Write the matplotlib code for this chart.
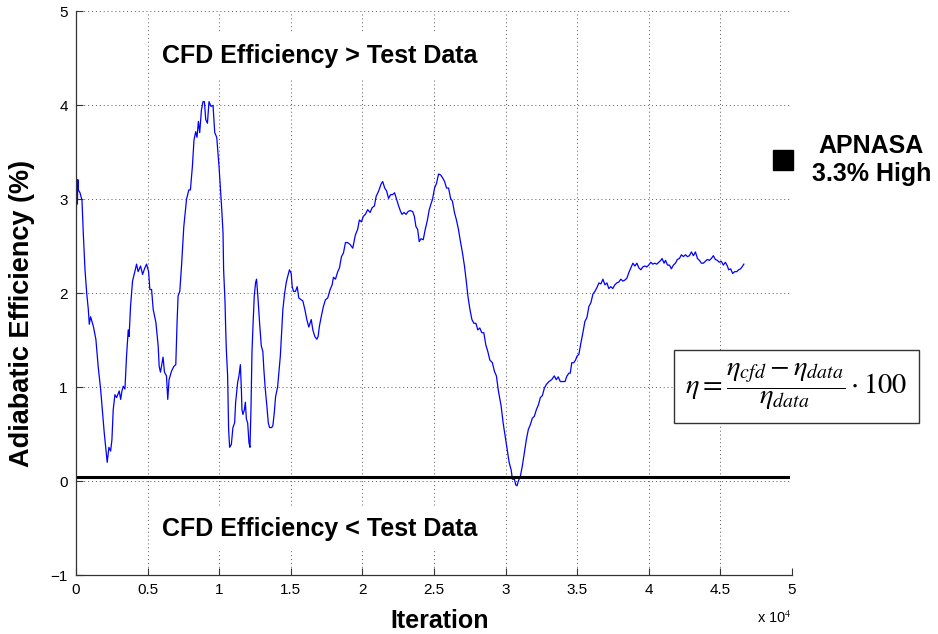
import matplotlib
matplotlib.use("Agg")
import matplotlib.pyplot as plt
from matplotlib.ticker import FuncFormatter, MultipleLocator

plt.rcParams['font.family'] = ['Liberation Sans', 'DejaVu Sans']
plt.rcParams['mathtext.fontset'] = 'stix'

# iteration number vs. adiabatic efficiency difference (%)
iterations = [
    0, 30, 60, 100, 130, 170, 280, 420, 510, 630, 750, 860, 930, 1020, 1210,
    1390, 1550, 1720, 1860, 1970, 2090, 2180, 2300, 2420, 2510, 2600, 2720,
    2840, 3020, 3120, 3210, 3300, 3420, 3530, 3650, 3710, 3810, 3950, 4110,
    4230, 4340, 4510, 4650, 4810, 4930, 5070, 5160, 5280, 5390, 5580, 5740,
    5810, 5900, 5990, 6080, 6180, 6320, 6410, 6500, 6670, 6830, 6970, 7060,
    7130, 7250, 7370, 7530, 7720, 7880, 7990, 8130, 8240, 8360, 8450, 8550,
    8640, 8760, 8870, 8970, 9060, 9180, 9290, 9430, 9570, 9690, 9830, 9990,
    10080, 10180, 10270, 10310, 10410, 10450, 10500, 10590, 10660, 10730,
    10850, 10960, 11080, 11150, 11290, 11380, 11480, 11550, 11590, 11660,
    11760, 11830, 11900, 11990, 12080, 12150, 12220, 12290, 12360, 12450,
    12540, 12610, 12700, 12820, 12940, 13050, 13120, 13220, 13330, 13430,
    13520, 13660, 13750, 13850, 13940, 14080, 14170, 14270, 14360, 14450,
    14570, 14680, 14770, 14910, 15030, 15100, 15190, 15330, 15450, 15560,
    15730, 15840, 15980, 16120, 16260, 16430, 16540, 16680, 16820, 16910,
    17000, 17140, 17280, 17420, 17580, 17750, 17890, 17980, 18120, 18280,
    18400, 18540, 18680, 18820, 18960, 19140, 19330, 19510, 19670, 19790,
    19930, 20070, 20210, 20370, 20540, 20680, 20840, 20960, 21140, 21300,
    21420, 21560, 21690, 21830, 21970, 22110, 22250, 22390, 22530, 22670,
    22770, 22910, 23050, 23190, 23330, 23510, 23630, 23740, 23860, 23970,
    24090, 24250, 24390, 24530, 24670, 24810, 24900, 25040, 25180, 25320,
    25460, 25600, 25740, 25880, 26020, 26160, 26290, 26430, 26570, 26710,
    26850, 26990, 27130, 27270, 27370, 27510, 27650, 27790, 27930, 28060,
    28200, 28340, 28480, 28620, 28760, 28900, 29080, 29220, 29360, 29500,
    29690, 29830, 29970, 30110, 30250, 30390, 30480, 30620, 30710, 30800,
    30890, 31030, 31170, 31310, 31450, 31590, 31730, 31870, 32010, 32150,
    32290, 32430, 32570, 32710, 32850, 33030, 33220, 33400, 33540, 33680,
    33820, 33960, 34150, 34290, 34430, 34520, 34620, 34760, 34890, 34990,
    35120, 35260, 35400, 35540, 35680, 35820, 35960, 36100, 36240, 36380,
    36520, 36660, 36800, 36940, 37080, 37210, 37350, 37490, 37630, 37770,
    37910, 38050, 38190, 38330, 38470, 38610, 38750, 38890, 39030, 39170,
    39310, 39450, 39580, 39720, 39860, 40000, 40140, 40280, 40420, 40560,
    40700, 40840, 40930, 41070, 41170, 41310, 41450, 41580, 41720, 41860,
    42000, 42140, 42280, 42420, 42560, 42700, 42840, 42980, 43120, 43260,
    43400, 43540, 43680, 43810, 43950, 44090, 44230, 44370, 44510, 44650,
    44790, 44930, 45070, 45210, 45350, 45490, 45580, 45720, 45860, 46000,
    46140, 46280, 46410, 46510, 46640,
]
efficiency = [
    2.45, 2.90, 3.15, 2.95, 3.21, 3.10, 3.07, 2.99, 2.64, 2.25, 2.00, 1.83,
    1.67, 1.75, 1.65, 1.51, 1.22, 0.98, 0.73, 0.52, 0.34, 0.20, 0.36, 0.32,
    0.44, 0.76, 0.92, 0.89, 0.96, 0.87, 0.96, 1.01, 0.98, 1.33, 1.61, 1.54,
    1.86, 2.13, 2.23, 2.31, 2.23, 2.29, 2.20, 2.27, 2.31, 2.23, 2.04, 2.04,
    1.83, 1.69, 1.44, 1.22, 1.16, 1.24, 1.32, 1.16, 1.12, 0.87, 1.08, 1.17,
    1.22, 1.24, 1.69, 1.97, 2.02, 2.29, 2.71, 3.00, 3.10, 3.10, 3.35, 3.63,
    3.72, 3.66, 3.83, 3.71, 3.95, 4.04, 4.04, 3.85, 3.81, 4.04, 3.99, 4.00,
    3.71, 3.66, 3.35, 3.14, 2.89, 2.64, 2.25, 1.90, 1.65, 1.40, 1.12, 0.55,
    0.36, 0.39, 0.57, 0.62, 0.84, 1.05, 1.12, 1.24, 0.98, 0.76, 0.71, 0.76,
    0.84, 0.66, 0.62, 0.41, 0.36, 0.76, 1.37, 1.65, 1.97, 2.11, 2.15, 1.97,
    1.69, 1.44, 1.38, 1.19, 0.98, 0.80, 0.62, 0.57, 0.57, 0.59, 0.73, 0.90,
    1.00, 1.16, 1.33, 1.58, 1.83, 2.00, 2.11, 2.17, 2.25, 2.21, 2.07, 2.02,
    2.02, 2.07, 1.95, 1.93, 1.92, 1.83, 1.72, 1.64, 1.72, 1.61, 1.54, 1.51,
    1.54, 1.65, 1.76, 1.86, 1.93, 1.95, 2.04, 2.09, 2.17, 2.15, 2.23, 2.27,
    2.39, 2.43, 2.54, 2.54, 2.52, 2.48, 2.62, 2.68, 2.78, 2.76, 2.82, 2.84,
    2.89, 2.86, 2.91, 2.93, 3.03, 3.09, 3.16, 3.19, 3.12, 3.09, 3.01, 3.05,
    3.05, 3.07, 3.00, 2.93, 2.87, 2.84, 2.86, 2.84, 2.87, 2.88, 2.87, 2.82,
    2.71, 2.68, 2.55, 2.58, 2.57, 2.68, 2.77, 2.89, 2.96, 3.00, 3.12, 3.17,
    3.27, 3.26, 3.23, 3.19, 3.12, 3.12, 3.01, 2.98, 2.86, 2.78, 2.68, 2.55,
    2.43, 2.29, 2.11, 1.97, 1.83, 1.72, 1.68, 1.68, 1.61, 1.63, 1.58, 1.58,
    1.45, 1.38, 1.29, 1.26, 1.17, 1.12, 0.96, 0.80, 0.62, 0.48, 0.34, 0.20,
    0.12, 0.02, 0.02, -0.04, -0.05, 0.00, 0.05, 0.16, 0.30, 0.44, 0.55, 0.60,
    0.67, 0.69, 0.76, 0.81, 0.89, 0.91, 0.99, 1.03, 1.06, 1.08, 1.12, 1.08,
    1.11, 1.06, 1.06, 1.06, 1.12, 1.15, 1.15, 1.26, 1.26, 1.29, 1.33, 1.35,
    1.47, 1.58, 1.70, 1.74, 1.86, 1.90, 1.99, 2.02, 2.06, 2.11, 2.10, 2.15,
    2.09, 2.11, 2.05, 2.07, 2.05, 2.09, 2.11, 2.12, 2.15, 2.13, 2.14, 2.16,
    2.22, 2.27, 2.32, 2.29, 2.32, 2.27, 2.25, 2.28, 2.29, 2.28, 2.30, 2.33,
    2.31, 2.32, 2.31, 2.33, 2.35, 2.37, 2.32, 2.35, 2.30, 2.30, 2.26, 2.30,
    2.32, 2.36, 2.37, 2.41, 2.39, 2.41, 2.39, 2.40, 2.44, 2.40, 2.44, 2.37,
    2.35, 2.32, 2.32, 2.34, 2.36, 2.35, 2.37, 2.40, 2.36, 2.35, 2.33, 2.34,
    2.30, 2.33, 2.29, 2.25, 2.26, 2.21, 2.23, 2.23, 2.25, 2.26, 2.28, 2.31,
]

zero_line = 0.04          # CFD = test data reference level
apnasa_iter = 49340       # APNASA result marker
apnasa_eff = 3.42

fig = plt.figure(figsize=(9.38, 6.34), dpi=100)
ax = fig.add_axes([0.081, 0.093, 0.7633, 0.8889])

ax.plot(iterations, efficiency, color='#0000ff', lw=0.9)
ax.axhline(zero_line, xmin=0, xmax=0.995, color='black', lw=2.2)
ax.plot([apnasa_iter], [apnasa_eff], 's', color='black', ms=14, clip_on=False)

ax.set_xlim(0, 50000)
ax.set_ylim(-1, 5)
ax.xaxis.set_major_locator(MultipleLocator(5000))
ax.yaxis.set_major_locator(MultipleLocator(1))
ax.xaxis.set_major_formatter(FuncFormatter(lambda v, p: f'{v/1e4:g}'))

ax.grid(True, color='0.35', linestyle=(0, (1, 3)), lw=0.7)
ax.spines['top'].set_visible(False)
ax.spines['right'].set_visible(False)
for s in ['left', 'bottom']:
    ax.spines[s].set_color('0.2')
    ax.spines[s].set_linewidth(0.9)
ax.tick_params(direction='in', length=5, width=0.8, labelsize=11, pad=6, colors='0.2', labelcolor='black')

ax.set_xlabel('Iteration', fontsize=18, fontweight='bold')
ax.set_ylabel('Adiabatic Efficiency (%)', fontsize=19.5, fontweight='bold')
ax.xaxis.set_label_coords(0.508, -0.060)
ax.yaxis.set_label_coords(-0.057, 0.465)

ax.text(1.0, -0.076, r'x 10$^{4}$', transform=ax.transAxes, ha='right', va='center', fontsize=10.5)

box = dict(boxstyle='square,pad=0.4', facecolor='white', edgecolor='none')
ax.text(17000, 4.53, 'CFD Efficiency > Test Data', ha='center', va='center',
        fontsize=18, fontweight='bold', bbox=box, zorder=3)
ax.text(17000, -0.51, 'CFD Efficiency < Test Data', ha='center', va='center',
        fontsize=18, fontweight='bold', bbox=box, zorder=3)

ax.text(55540, apnasa_eff, 'APNASA\n3.3% High', ha='center', va='center',
        fontsize=18, fontweight='bold', clip_on=False)

ax.text(50310, 1.01,
        r'$\eta = \dfrac{\eta_{cfd} - \eta_{data}}{\eta_{data}}\cdot 100$',
        ha='center', va='center', fontsize=20.5, clip_on=False, zorder=4,
        bbox=dict(boxstyle='square,pad=0.4', facecolor='white', edgecolor='0.2', lw=1))

fig.savefig('out.png', dpi=100)
